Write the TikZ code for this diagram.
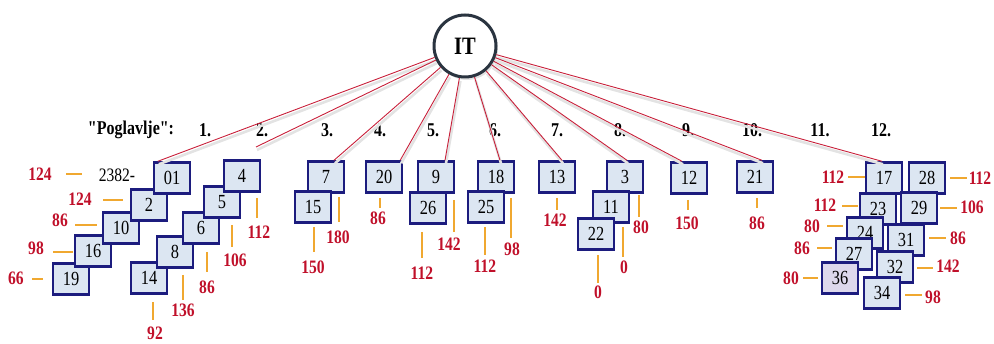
\documentclass[tikz,border=0pt]{standalone}
\usepackage{fontspec}
\setmainfont{Liberation Serif}[FakeStretch=0.82]
\newfontfamily\plainq{Liberation Serif}[FakeStretch=0.82]
\usetikzlibrary{shadows,calc}
\definecolor{boxfill}{HTML}{DCE6F2}
\definecolor{boxlav}{HTML}{DDD8EC}
\definecolor{navy}{HTML}{1C1C7E}
\definecolor{labred}{HTML}{C0102A}
\definecolor{tickor}{HTML}{F0A830}
\definecolor{rayred}{HTML}{C8203A}
\definecolor{ringc}{HTML}{2A3440}
\begin{document}
\begin{tikzpicture}[x=1pt,y=-1pt,
 box/.style={draw=navy,line width=2.4pt,fill=boxfill,minimum width=36pt,minimum height=31pt,inner sep=0pt,font=\fontsize{20}{20}\selectfont},
 lbl/.style={text=labred,inner sep=0pt,font=\bfseries\fontsize{19}{19}\selectfont},
 hdr/.style={inner sep=0pt,font=\plainq\bfseries\fontsize{19.5}{19.5}\selectfont},
 tick/.style={draw=tickor,line width=1.3pt},
 ray/.style={draw=rayred,line width=0.9pt},
 rayshade/.style={draw=gray!22,line width=2.6pt,transform canvas={xshift=1pt,yshift=-3pt}},
 hub/.style={circle,draw=ringc,line width=3pt,fill=white,minimum size=62pt,inner sep=0pt,
   font=\bfseries\fontsize{25}{25}\selectfont,
   drop shadow={shadow xshift=2pt,shadow yshift=-3pt,fill=gray!45}}
]
\useasboundingbox (0,0) rectangle (994,344);

% hub
\node[hub] (IT) at (465,46) {IT};

% header
\node[hdr] (hp) at (131,130) {"Poglavlje":};
\node[hdr] (h1) at (205,130) {1.};
\node[hdr] (h2) at (262,130) {2.};
\node[hdr] (h3) at (327,130) {3.};
\node[hdr] (h4) at (380,130) {4.};
\node[hdr] (h5) at (433,130) {5.};
\node[hdr] (h6) at (495,130) {6.};
\node[hdr] (h7) at (557,130) {7.};
\node[hdr] (h8) at (620,130) {8.};
\node[hdr] (h9) at (688,130) {9.};
\node[hdr] (h10) at (752,130) {10.};
\node[hdr] (h11) at (820,130) {11.};
\node[hdr] (h12) at (881,130) {12.};

% boxes: group 1 left column
\node[box] (b19) at (71,279) {19};
\node[box] (b16) at (93,251) {16};
\node[box] (b10) at (121,228) {10};
\node[box] (b2)  at (149,205) {2};
\node[box] (b01) at (172,178) {01};
% group 1 right column
\node[box] (b14) at (149,278) {14};
\node[box] (b8)  at (175,252) {8};
\node[box] (b6)  at (201,228) {6};
\node[box] (b5)  at (222,202) {5};
\node[box] (b4)  at (242,176) {4};
% chapters 3-10
\node[box] (b7)  at (326,177) {7};
\node[box] (b15) at (313,207) {15};
\node[box] (b20) at (384,177) {20};
\node[box] (b9)  at (436,177) {9};
\node[box] (b26) at (428,208) {26};
\node[box] (b18) at (496,177) {18};
\node[box] (b25) at (486,207) {25};
\node[box] (b13) at (557,177) {13};
\node[box] (b3)  at (625,177) {3};
\node[box] (b11) at (611,207) {11};
\node[box] (b22) at (596,234) {22};
\node[box] (b12) at (689,178) {12};
\node[box] (b21) at (755,177) {21};
% chapter 12
\node[box] (b17) at (884,178) {17};
\node[box] (b23) at (878,209) {23};
\node[box] (b24) at (865,233) {24};
\node[box] (b27) at (854,254) {27};
\node[box,fill=boxlav] (b36) at (840,278) {36};
\node[box] (b28) at (927,178) {28};
\node[box] (b29) at (919,208) {29};
\node[box] (b31) at (906,240) {31};
\node[box] (b32) at (895,267) {32};
\node[box] (b34) at (882,293) {34};

% ray end points
\coordinate (e1) at ($(b01.north west)+(5,0)$);
\coordinate (e2) at (256,147);
\coordinate (e3) at ($(b7.north)+(8,0)$);
\coordinate (e4) at ($(b20.north east)+(-3,0)$);
\coordinate (e5) at ($(b9.north)+(9,0)$);
\coordinate (e6) at ($(b18.north)+(4,0)$);
\coordinate (e7) at ($(b13.north)+(5,0)$);
\coordinate (e8) at ($(b3.north)+(2,0)$);
\coordinate (e9) at ($(b12.north)+(-7,0)$);
\coordinate (e10) at ($(b21.north)+(7,0)$);
\coordinate (e11) at ($(b17.north)+(-2,0)$);
\foreach \t in {e1,e2,e3,e4,e5,e6,e7,e8,e9,e10,e11}{
  \draw[rayshade] (IT) -- (\t);
}
\foreach \t in {e1,e2,e3,e4,e5,e6,e7,e8,e9,e10,e11}{
  \draw[ray] (IT) -- (\t);
}

% group 1 labels
\node[font=\fontsize{19}{19}\selectfont,inner sep=0pt] (code) at (117,175) {2382-};
\node[lbl] (la1) at (40,174) {124};  \draw[tick] (66,174) -- (82,174);
\node[lbl] (la2) at (80,199) {124};  \draw[tick] (103,200) -- (123,200);
\node[lbl] (la3) at (60,220) {86};   \draw[tick] (75,225) -- (97,225);
\node[lbl] (la4) at (36,248) {98};   \draw[tick] (53,252) -- (73,252);
\node[lbl] (la5) at (16,278) {66};   \draw[tick] (32,279) -- (43,279);
\node[lbl] (lb1) at (155,333) {92};  \draw[tick] (153,302) -- (153,320);
\node[lbl] (lb2) at (183,310) {136}; \draw[tick] (183,275) -- (183,300);
\node[lbl] (lb3) at (207,287) {86};  \draw[tick] (207,252) -- (207,272);
\node[lbl] (lb4) at (235,260) {106}; \draw[tick] (232,225) -- (232,247);
\node[lbl] (lb5) at (259,232) {112}; \draw[tick] (257,198) -- (257,218);
% chapters 3-10 labels
\node[lbl] (lc1) at (338,237) {180}; \draw[tick] (339,197) -- (339,222);
\node[lbl] (lc2) at (313,267) {150}; \draw[tick] (314,227) -- (314,252);
\node[lbl] (lc3) at (378,218) {86};  \draw[tick] (380,198) -- (380,208);
\node[lbl] (lc4) at (449,244) {142}; \draw[tick] (454,200) -- (454,232);
\node[lbl] (lc5) at (422,273) {112}; \draw[tick] (422,232) -- (422,258);
\node[lbl] (lc6) at (512,249) {98};  \draw[tick] (511,198) -- (511,238);
\node[lbl] (lc7) at (485,266) {112}; \draw[tick] (485,227) -- (485,255);
\node[lbl] (lc8) at (555,220) {142}; \draw[tick] (557,198) -- (557,210);
\node[lbl] (lc9) at (641,227) {80};  \draw[tick] (639,195) -- (639,217);
\node[lbl] (lc10) at (624,267) {0};  \draw[tick] (623,227) -- (623,257);
\node[lbl] (lc11) at (598,292) {0};  \draw[tick] (598,255) -- (598,283);
\node[lbl] (lc12) at (687,223) {150};\draw[tick] (688,200) -- (688,210);
\node[lbl] (lc13) at (757,223) {86}; \draw[tick] (757,198) -- (757,208);
% chapter 12 labels
\node[lbl] (ld1) at (833,177) {112}; \draw[tick] (848,177) -- (865,177);
\node[lbl] (ld2) at (825,205) {112}; \draw[tick] (842,206) -- (858,206);
\node[lbl] (ld3) at (812,226) {80};  \draw[tick] (827,226) -- (843,226);
\node[lbl] (ld4) at (802,248) {86};  \draw[tick] (817,248) -- (832,248);
\node[lbl] (ld5) at (791,278) {80};  \draw[tick] (803,278) -- (818,278);
\node[lbl] (le1) at (980,178) {112}; \draw[tick] (950,178) -- (967,178);
\node[lbl] (le2) at (972,207) {106}; \draw[tick] (940,208) -- (957,208);
\node[lbl] (le3) at (958,238) {86};  \draw[tick] (929,238) -- (946,238);
\node[lbl] (le4) at (948,266) {142}; \draw[tick] (917,268) -- (933,268);
\node[lbl] (le5) at (933,297) {98};  \draw[tick] (905,295) -- (922,295);
\end{tikzpicture}
\end{document}
